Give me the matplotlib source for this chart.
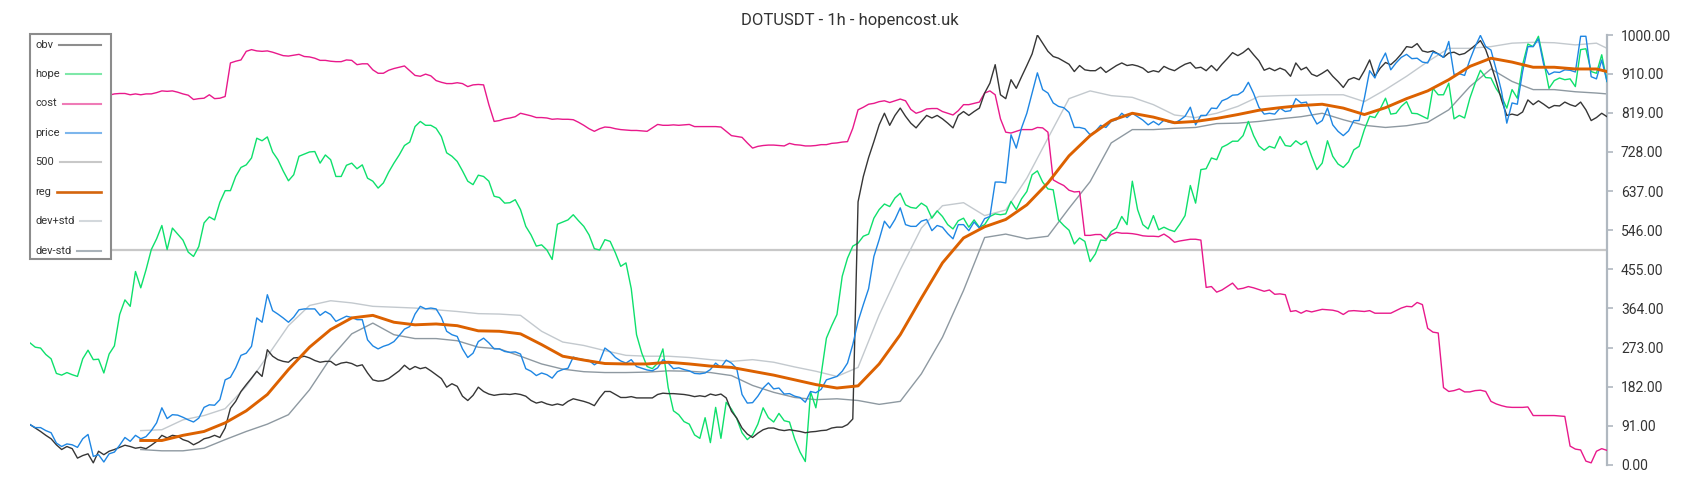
import numpy as np
import matplotlib.pyplot as plt
from matplotlib.lines import Line2D
from matplotlib.patches import Rectangle

plt.rcParams['font.family'] = ['Roboto', 'DejaVu Sans']

title = 'DOTUSDT - 1h - hopencost.uk'
yticks = [0, 91, 182, 273, 364, 455, 546, 637, 728, 819, 910, 1000]
level = 500

obv = [94, 86, 78, 69, 61, 47, 36, 43, 38, 16, 22, 26, 5, 32, 24, 32, 36, 41, 46, 43,
       39, 41, 38, 46, 55, 69, 63, 69, 67, 59, 55, 47, 53, 61, 64, 69, 64, 86, 132, 148,
       171, 187, 202, 218, 206, 268, 253, 245, 241, 239, 249,
       250, 253, 249, 243, 239, 241, 241, 232, 237, 239, 236, 230, 233, 214, 198, 195, 196, 201, 210, 219,
       232, 222, 229, 224, 227, 219, 210, 201, 181, 189, 183, 160, 150, 162, 181, 171, 165, 162, 164, 165,
       164, 166, 164, 160, 150, 144, 147, 142, 139, 142,
       139, 148, 154, 151, 148, 144, 138, 156, 171, 171, 164, 157, 157, 159, 156, 156, 156, 156, 164, 167,
       166, 166, 165, 164, 162, 159, 161, 159, 165, 162, 165, 156, 125, 109, 86, 72, 64, 74, 82, 86,
       86, 82, 80, 82, 80, 78, 75, 77, 78, 80,
       81, 86, 88, 88, 94, 107, 612, 671, 715, 752, 791, 818, 790, 813, 830, 811, 795, 784, 799, 813,
       807, 813, 805, 795, 784, 813, 822, 813, 822, 830, 865, 888, 931, 861, 852, 896, 876, 903, 929, 956,
       1000, 981, 962, 950, 946, 939, 932, 915, 929, 919,
       917, 917, 925, 913, 921, 929, 935, 929, 931, 928, 923, 913, 917, 914, 927, 921, 917, 925, 932, 936,
       923, 925, 917, 929, 917, 932, 945, 959, 952, 959, 969, 954, 940, 918, 923, 917, 923, 918, 904, 935,
       919, 925, 909, 904, 911, 919, 904, 892, 878, 896,
       901, 896, 917, 942, 904, 923, 936, 931, 942, 956, 973, 971, 980, 963, 960, 963, 956, 948, 958, 960,
       954, 957, 966, 976, 987, 966, 931, 892, 849, 813, 816, 813, 821, 849, 838, 847, 839, 830, 836, 835,
       844, 838, 834, 844, 826, 801, 808, 818, 810]

hope = [284, 274, 272, 257, 247, 213, 209, 215, 210, 206, 247, 267, 245, 246, 214, 258, 277, 350, 384, 369,
        450, 412, 454, 501, 526, 557, 501, 551, 537, 523, 495, 485, 508, 563, 577, 570, 611, 638, 638, 671,
        692, 698, 714, 760, 754, 763, 728, 710, 684, 661, 675,
        718, 723, 728, 729, 702, 721, 710, 671, 671, 697, 702, 689, 698, 667, 660, 644, 656, 681, 702, 721,
        743, 751, 787, 799, 790, 790, 783, 764, 726, 718, 706, 684, 660, 652, 674, 671, 660, 625, 622, 609,
        610, 617, 594, 555, 535, 509, 512, 500, 478, 560,
        565, 570, 582, 568, 555, 535, 503, 500, 524, 520, 493, 462, 470, 410, 303, 260, 229, 224, 237, 270,
        180, 126, 117, 101, 95, 70, 62, 110, 52, 134, 62, 146, 130, 108, 75, 59, 70, 95, 133, 110,
        100, 120, 103, 100, 60, 30, 8, 170, 133, 210,
        295, 324, 350, 439, 481, 509, 516, 532, 537, 574, 594, 607, 601, 621, 632, 605, 599, 597, 609, 601,
        574, 591, 578, 559, 549, 568, 574, 553, 570, 553, 559, 578, 584, 582, 584, 613, 594, 619, 636, 675,
        684, 658, 642, 640, 570, 557, 546, 514, 528, 520,
        473, 491, 523, 522, 543, 551, 578, 559, 660, 594, 559, 549, 580, 547, 553, 547, 543, 560, 580, 650,
        609, 687, 689, 714, 710, 739, 745, 753, 753, 766, 799, 766, 742, 732, 741, 737, 764, 743, 741, 754,
        745, 753, 718, 687, 702, 754, 718, 700, 692, 705,
        733, 741, 780, 811, 808, 828, 853, 816, 818, 834, 845, 818, 817, 811, 805, 876, 861, 861, 888, 805,
        813, 807, 853, 888, 918, 901, 900, 875, 857, 830, 873, 853, 931, 979, 973, 997, 939, 876, 894, 900,
        896, 898, 880, 966, 968, 915, 911, 954, 892]

cost = [855, 856, 858, 857, 859, 860, 858, 857, 859, 860, 861, 860, 859, 858, 859, 860, 863, 864, 864, 861,
        863, 861, 863, 863, 866, 870, 869, 870, 867, 863, 860, 850, 852, 853, 861, 852, 853, 857, 935, 939,
        942, 962, 966, 963, 962, 963, 960, 956, 952, 951, 953,
        955, 950, 949, 946, 941, 941, 939, 938, 938, 942, 941, 931, 933, 933, 919, 911, 911, 918, 922, 925,
        928, 917, 906, 904, 909, 905, 894, 890, 887, 887, 889, 887, 880, 884, 885, 884, 838, 799, 801, 805,
        807, 810, 818, 815, 812, 808, 808, 807, 804, 805,
        804, 804, 803, 797, 790, 782, 776, 782, 786, 785, 782, 780, 779, 778, 778, 777, 776, 784, 792, 790,
        790, 791, 790, 791, 792, 787, 787, 787, 787, 787, 786, 776, 766, 764, 762, 749, 737, 741, 743, 744,
        744, 743, 742, 748, 745, 744, 742, 742, 743, 745,
        745, 748, 749, 751, 752, 783, 826, 832, 839, 841, 845, 847, 843, 847, 851, 847, 827, 818, 822, 828,
        829, 829, 822, 818, 814, 824, 838, 838, 841, 844, 865, 870, 861, 805, 774, 772, 776, 780, 780, 780,
        785, 784, 774, 663, 656, 650, 639, 635, 636, 534,
        534, 536, 536, 525, 536, 541, 539, 539, 538, 536, 533, 532, 532, 531, 537, 529, 518, 521, 523, 525,
        525, 523, 413, 415, 402, 407, 415, 423, 409, 411, 415, 412, 408, 404, 407, 397, 398, 396, 357, 359,
        353, 359, 356, 359, 362, 361, 360, 357, 350, 358,
        359, 358, 357, 359, 353, 353, 353, 353, 359, 365, 369, 368, 378, 373, 318, 309, 307, 180, 171, 173,
        177, 170, 170, 173, 174, 171, 148, 142, 138, 135, 134, 134, 134, 135, 115, 115, 115, 115, 115, 114,
        113, 44, 37, 35, 9, 5, 32, 38, 34]

price = [94, 87, 87, 80, 75, 51, 43, 49, 47, 41, 61, 71, 20, 24, 7, 26, 30, 46, 64, 55,
         69, 61, 66, 80, 98, 133, 108, 117, 116, 111, 105, 100, 109, 134, 140, 139, 152, 198, 204, 226,
         255, 260, 276, 342, 332, 396, 359, 351, 342, 332, 344,
         361, 363, 363, 363, 348, 357, 350, 334, 340, 346, 343, 338, 338, 291, 277, 270, 276, 280, 287, 301,
         316, 322, 351, 369, 363, 365, 363, 343, 311, 303, 299, 270, 250, 260, 287, 295, 284, 270, 270, 264,
         262, 263, 258, 224, 218, 208, 214, 210, 202, 217,
         222, 225, 251, 247, 245, 243, 233, 241, 272, 263, 250, 242, 237, 245, 229, 225, 221, 219, 226, 245,
         237, 224, 226, 222, 219, 213, 212, 214, 222, 237, 227, 244, 237, 224, 164, 144, 145, 160, 179, 191,
         177, 179, 165, 166, 160, 157, 146, 171, 168, 176,
         198, 202, 206, 218, 237, 280, 334, 373, 410, 485, 524, 567, 551, 571, 598, 559, 555, 555, 567, 571,
         545, 557, 553, 538, 526, 559, 559, 545, 565, 551, 573, 578, 658, 658, 656, 768, 737, 784, 818, 865,
         912, 873, 865, 842, 834, 831, 820, 785, 785, 782,
         768, 776, 790, 785, 799, 803, 818, 808, 818, 810, 802, 791, 799, 791, 802, 797, 795, 802, 811, 832,
         791, 813, 813, 830, 829, 847, 852, 860, 861, 869, 890, 864, 832, 816, 818, 816, 830, 822, 824, 852,
         842, 844, 815, 793, 801, 830, 791, 776, 766, 777,
         801, 801, 853, 917, 900, 935, 958, 919, 935, 948, 955, 945, 946, 937, 935, 960, 956, 948, 985, 908,
         910, 906, 942, 973, 999, 973, 965, 919, 869, 795, 842, 839, 915, 973, 973, 991, 931, 908, 914, 913,
         919, 918, 914, 997, 997, 903, 898, 942, 892]

# regression and bands, read every 4th bar from bar 21 on (plus the last bar)
reg = [57, 57, 69, 78, 98, 126, 164, 222,
       274, 315, 342, 348, 332, 326, 328, 324, 312, 311, 305, 280,
       253, 244, 236, 235, 235, 239, 235, 230, 227, 218, 209, 198, 187,
       179, 184, 235, 303, 388, 470, 528, 554, 571, 605, 656, 719,
       766, 801, 818, 809, 796, 799, 806, 815, 825, 831, 836, 839, 830,
       815, 831, 852, 870, 896, 927, 946, 937, 925, 925, 921, 921, 915]

dev_plus = [80, 82, 105, 115, 131, 183, 253, 324,
            371, 382, 377, 369, 367, 365, 361, 357, 352, 351, 348, 311,
            286, 278, 266, 255, 253, 253, 250, 245, 241, 245, 239, 228, 218,
            206, 227, 349, 454, 551, 603, 610, 580, 593, 667, 760, 852,
            870, 859, 855, 838, 814, 808, 818, 834, 857, 859, 860, 861, 861,
            845, 873, 904, 938, 969, 969, 973, 981, 983, 982, 977, 981, 969]

dev_minus = [36, 33, 33, 39, 59, 78, 95, 117,
             175, 249, 305, 330, 303, 294, 294, 289, 274, 270, 253, 235,
             223, 217, 215, 215, 216, 219, 218, 215, 208, 185, 169, 157, 152,
             154, 150, 141, 148, 212, 297, 406, 529, 537, 526, 532, 597,
             659, 749, 780, 780, 783, 785, 794, 795, 799, 805, 810, 818, 803,
             790, 785, 789, 797, 826, 880, 921, 892, 873, 873, 868, 865, 863]

W, H = 1700, 500
fig = plt.figure(figsize=(W / 100, H / 100), dpi=100)
ax = fig.add_axes([30 / W, 1 - 465 / H, 1577 / W, 430 / H])

x = np.arange(len(obv))
xs = np.r_[np.arange(21, len(obv) - 2, 4), len(obv) - 1]

ax.axhline(level, color='#c8c8c8', lw=1.6, zorder=1)
ax.plot(xs, dev_plus, color='#c3c9ce', lw=1.0, zorder=2)
ax.plot(xs, dev_minus, color='#8e99a1', lw=1.0, zorder=2)
ax.plot(x, cost, color='#e8198b', lw=1.0, zorder=3)
ax.plot(x, hope, color='#0ee06c', lw=1.0, zorder=3)
ax.plot(x, obv, color='#363636', lw=1.0, zorder=3)
ax.plot(x, price, color='#1e86e3', lw=1.0, zorder=4)
ax.plot(xs, reg, color='#dc6100', lw=2.1, zorder=5)

ax.set_xlim(0, len(obv) - 1)
ax.set_ylim(0, 1000)
ax.yaxis.tick_right()
ax.set_yticks(yticks)
ax.set_yticklabels([f'{t:.2f}' for t in yticks])
ax.tick_params(axis='y', length=4, width=1.2, color='#b0b8c0', labelsize=10,
               labelcolor='#333333', pad=6)
ax.tick_params(axis='x', bottom=False, labelbottom=False)
for s in ['top', 'left', 'bottom']:
    ax.spines[s].set_visible(False)
ax.spines['right'].set_color('#b0b8c0')
ax.spines['right'].set_linewidth(1.6)
ax.set_facecolor('none')

fig.text(850 / W, 1 - 21 / H, title, ha='center', va='center', fontsize=12, color='#333333')

# legend drawn by hand: label left, swatch filling to the right edge
labels = ['obv', 'hope', 'cost', 'price', '500', 'reg', 'dev+std', 'dev-std']
swatch = ['#8e8e8e', '#7fe8a9', '#ef7bb7', '#7db6ec', '#c8c8c8', '#d4650d', '#d3d8dc', '#a9b2b9']
fig.add_artist(Rectangle((30 / W, 1 - 259 / H), 81 / W, 225 / H, transform=fig.transFigure,
                         facecolor='white', edgecolor='#8c8c8c', lw=1.5, zorder=6))
renderer = fig.canvas.get_renderer()
for k, (lab, c) in enumerate(zip(labels, swatch)):
    yc = 1 - (44.7 + 29.4 * k) / H
    t = fig.text(35 / W, yc, lab, ha='left', va='center', fontsize=8, color='#333333', zorder=7)
    x1 = t.get_window_extent(renderer).x1
    fig.add_artist(Line2D([(x1 + 6) / W, 101 / W], [yc, yc], transform=fig.transFigure,
                          color=c, lw=1.9 if lab == 'reg' else 1.5, zorder=7))

fig.savefig('out.png', dpi=100)
